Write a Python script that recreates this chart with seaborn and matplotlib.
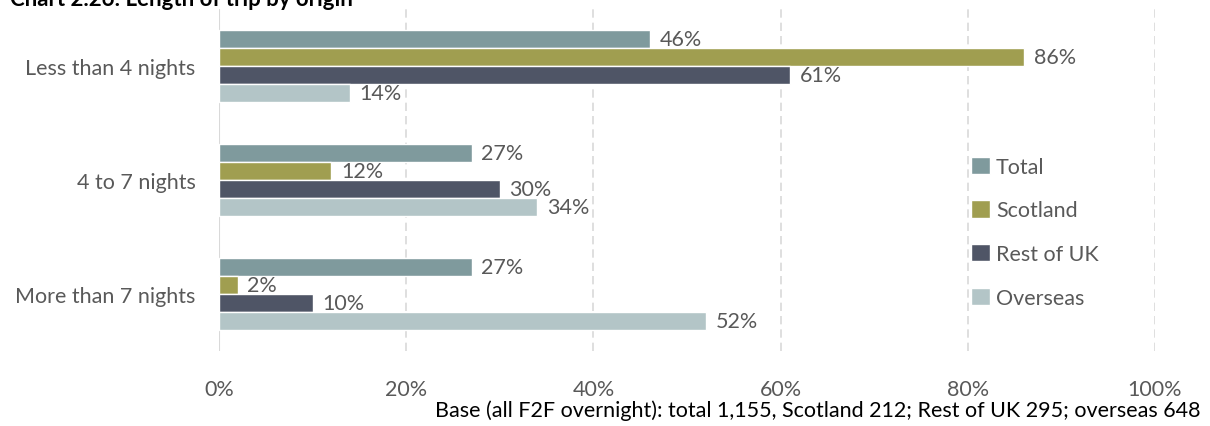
import matplotlib
matplotlib.use("Agg")
import matplotlib.pyplot as plt
import pandas as pd
import seaborn as sns

# data
categories = ["Less than 4 nights", "4 to 7 nights", "More than 7 nights"]
origins = ["Total", "Scotland", "Rest of UK", "Overseas"]
total = [46, 27, 27]
scotland = [86, 12, 2]
rest_of_uk = [61, 30, 10]
overseas = [14, 34, 52]
colours = ["#7F9A9D", "#A09E50", "#4F5566", "#B3C5C7"]

rows = []
for origin, vals in zip(origins, [total, scotland, rest_of_uk, overseas]):
    for cat, v in zip(categories, vals):
        rows.append({"length": cat, "origin": origin, "pct": v})
df = pd.DataFrame(rows)

sns.set_style("white")
plt.rcParams["font.family"] = ["Lato", "DejaVu Sans"]
grey = "#595959"
fs = 15.5

fig = plt.figure(figsize=(12.1, 4.27), dpi=100)
ax = fig.add_axes([0.181, 0.1756, 0.7735, 0.801])

sns.barplot(data=df, x="pct", y="length", hue="origin", order=categories,
            hue_order=origins, palette=colours, orient="h", width=0.63,
            saturation=1, ax=ax)

# value labels
for container in ax.containers:
    ax.bar_label(container, labels=[f"{v:.0f}%" for v in container.datavalues],
                 padding=7, fontsize=fs, color=grey)

ax.set_xlim(0, 100)
ax.set_ylim(2.5, -0.5)
ax.set_xticks(range(0, 101, 20))
ax.set_xticklabels([f"{t}%" for t in range(0, 101, 20)])
ax.tick_params(axis="x", length=0, pad=20, labelsize=fs, labelcolor=grey)
ax.tick_params(axis="y", length=0, pad=17, labelsize=fs, labelcolor=grey)
ax.set_xlabel("")
ax.set_ylabel("")

# gridlines
for t in range(20, 101, 20):
    ax.axvline(t, color="#D9D9D9", linestyle=(0, (5, 3)), linewidth=1.2, zorder=0)
for s in ax.spines.values():
    s.set_visible(False)
ax.axvline(0, color="#D9D9D9", linewidth=1.5, zorder=0)

leg = ax.legend(loc="upper left", bbox_to_anchor=(0.783, 0.625), frameon=False,
                fontsize=fs, handlelength=0.85, handleheight=0.85,
                handletextpad=0.3, labelspacing=1.1)
for txt in leg.get_texts():
    txt.set_color(grey)

fig.text(0.008, 1 - 6 / 427, "Chart 2.26: Length of trip by origin",
         fontsize=16, fontweight="bold", color="black", va="baseline")
fig.text(0.992, 10 / 427, "Base (all F2F overnight): total 1,155, Scotland 212; "
         "Rest of UK 295; overseas 648", ha="right", va="baseline",
         fontsize=fs, color="black")

fig.savefig("out.png", dpi=100)
